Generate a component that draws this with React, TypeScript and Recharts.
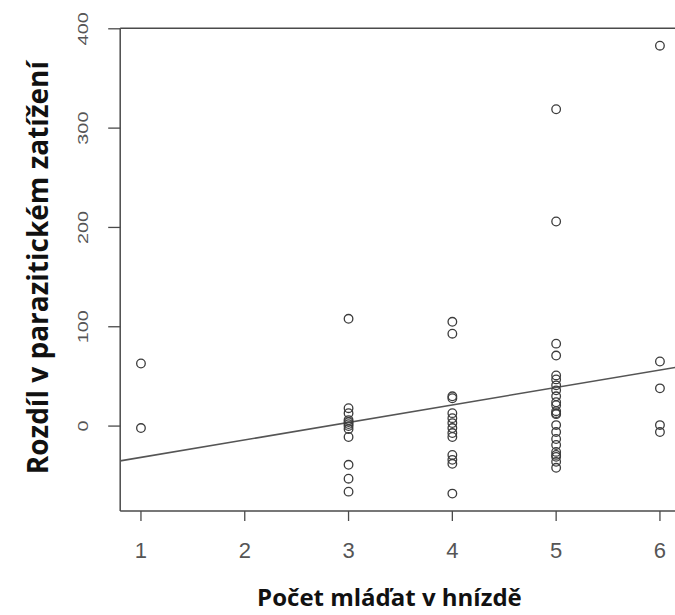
import React from 'react';
import { ScatterChart, Scatter, XAxis, YAxis, ReferenceLine } from 'recharts';

// Number of nestlings (x categories / ticks)
const xTicks = [1, 2, 3, 4, 5, 6];
const yTicks = [0, 100, 200, 300, 400];

// Difference in parasite load, per nestling count
const nest1 = [63, -2];
const nest3 = [108, 18, 13, 6, 4, 2, 0, -3, -11, -39, -53, -66];
const nest4 = [105, 93, 30, 28, 13, 8, 3, -2, -7, -11, -29, -34, -38, -68];
const nest5 = [319, 206, 83, 71, 51, 47, 41, 36, 30, 24, 21, 15, 13, 12, 1, -6, -13, -19, -26, -29, -31, -36, -42];
const nest6 = [383, 65, 38, 1, -6];

// Regression line end points
const fitX = [0.8, 6.2];
const fitY = [-35, 60];

const xDomain = [0.8, 6.2];
const yDomain = [-85.5, 400.5];

const toPoints = (x: number, vals: number[]) => vals.map((v) => ({ x, y: v }));
const data = [
  ...toPoints(1, nest1),
  ...toPoints(3, nest3),
  ...toPoints(4, nest4),
  ...toPoints(5, nest5),
  ...toPoints(6, nest6),
];

const tickColor = '#555';
const boxColor = '#4a4a4a';

const OpenCircle = (p: any) => (
  <circle cx={p.cx} cy={p.cy} r={4.3} fill="none" stroke="#3c3c3c" strokeWidth={1.3} />
);

const XTick = (p: any) => (
  <text
    x={p.x}
    y={p.y}
    dy="0.71em"
    textAnchor="middle"
    fontFamily="'Liberation Sans', Arial, sans-serif"
    fontSize={22}
    fill={tickColor}
  >
    {p.payload.value}
  </text>
);

const YTick = (p: any) => (
  <text
    transform={`translate(${p.x - 5}, ${p.y}) rotate(-90) scale(1.42, 1)`}
    textAnchor="middle"
    dominantBaseline="central"
    fontFamily="'Liberation Sans', Arial, sans-serif"
    fontSize={14}
    fill={tickColor}
  >
    {p.payload.value}
  </text>
);

export default function App() {
  return (
    <div style={{ position: 'absolute', left: 0, top: 0, width: 675, height: 615, overflow: 'hidden', background: '#fff' }}>
      <ScatterChart
        width={675}
        height={615}
        margin={{ top: 28.3, right: -5.7, bottom: 0, left: 60 }}
        style={{ overflow: 'hidden' }}
      >
        <XAxis
          type="number"
          dataKey="x"
          domain={xDomain}
          ticks={xTicks}
          allowDataOverflow
          axisLine={false}
          tickSize={10}
          tickMargin={21}
          tickLine={{ stroke: boxColor, strokeWidth: 1.3 }}
          tick={<XTick />}
          height={104}
          label={{
            value: 'Počet mláďat v hnízdě',
            position: 'insideBottom',
            offset: 9,
            dx: -11,
            fill: '#111',
            fontSize: 24,
            fontWeight: 700,
            fontFamily: "'Open Sans', sans-serif",
          }}
        />
        <YAxis
          type="number"
          dataKey="y"
          domain={yDomain}
          ticks={yTicks}
          allowDataOverflow
          axisLine={false}
          tickSize={12}
          tickMargin={20}
          tickLine={{ stroke: boxColor, strokeWidth: 1.3 }}
          tick={<YTick />}
          width={60.2}
          label={{
            value: 'Rozdíl v parazitickém zatížení',
            angle: -90,
            position: 'insideLeft',
            offset: -22,
            dy: -2,
            style: { textAnchor: 'middle' },
            fill: '#111',
            fontSize: 28,
            fontWeight: 700,
            fontFamily: "'Open Sans', sans-serif",
          }}
        />
        <ReferenceLine y={yDomain[1]} stroke={boxColor} strokeWidth={1.5} ifOverflow="visible" />
        <ReferenceLine y={yDomain[0]} stroke={boxColor} strokeWidth={1.5} ifOverflow="visible" />
        <ReferenceLine x={xDomain[0]} stroke={boxColor} strokeWidth={1.5} ifOverflow="visible" />
        <ReferenceLine
          segment={[
            { x: fitX[0], y: fitY[0] },
            { x: fitX[1], y: fitY[1] },
          ]}
          stroke="#555"
          strokeWidth={1.6}
          ifOverflow="visible"
        />
        <Scatter data={data} shape={OpenCircle} isAnimationActive={false} />
      </ScatterChart>
    </div>
  );
}
